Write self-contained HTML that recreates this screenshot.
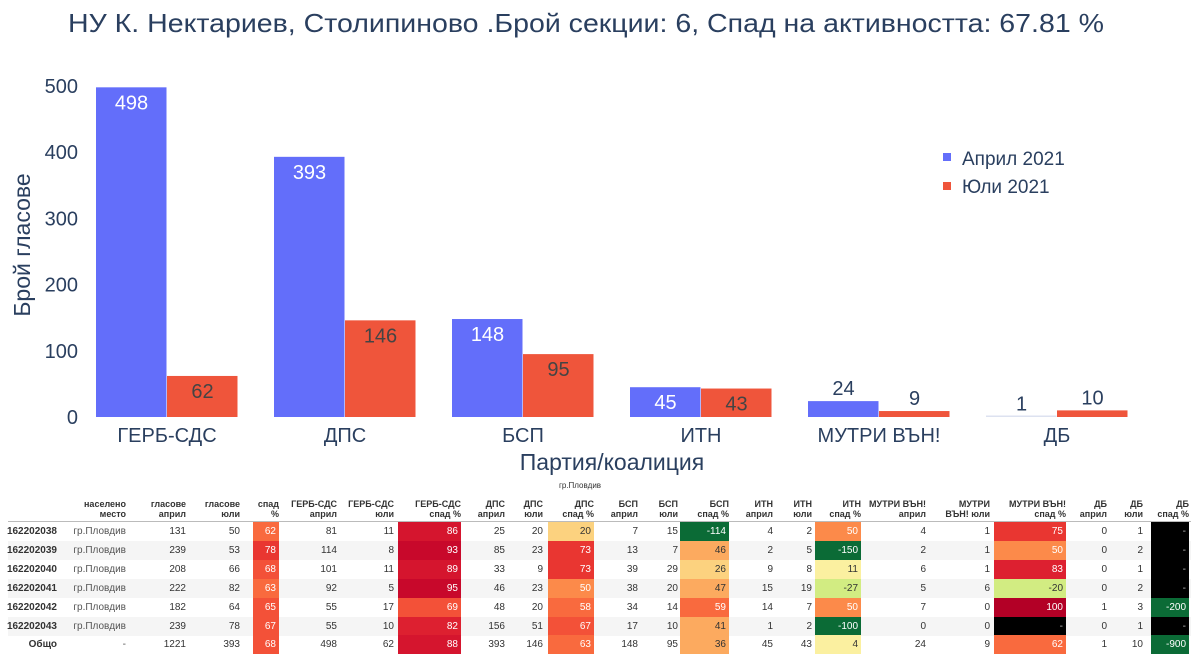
<!DOCTYPE html>
<html><head><meta charset="utf-8">
<style>
body{margin:0;background:#fff;width:1200px;height:661px;overflow:hidden;position:relative;font-family:"Liberation Sans",sans-serif}
#tbl{position:absolute;left:0;top:0;width:1200px;height:661px}
.c{position:absolute;font-size:10px;color:#333;text-align:right;line-height:19px;height:19px;white-space:nowrap}
.h{position:absolute;font-size:9px;font-weight:bold;color:#333;text-align:right;line-height:10px;white-space:nowrap}
</style></head><body>
<svg id="chart" width="1200" height="480" style="position:absolute;left:0;top:0" font-family="Liberation Sans, sans-serif">
<text x="68" y="32" font-size="26" fill="#2a3f5f" textLength="1036" lengthAdjust="spacingAndGlyphs">НУ К. Нектариев, Столипиново .Брой секции: 6,  Спад на активността: 67.81 %</text>
<text transform="translate(30,245) rotate(-90)" text-anchor="middle" font-size="23" fill="#2a3f5f">Брой гласове</text>
<text x="612" y="470" text-anchor="middle" font-size="23" fill="#2a3f5f">Партия/коалиция</text>
<g id="yticks"></g><g id="bars"></g><g id="xlabels"></g>
<g>
<rect x="943" y="153" width="8" height="8" fill="#636efa"/>
<text x="962" y="165" font-size="19" fill="#2a3f5f">Април 2021</text>
<rect x="943" y="182" width="8" height="8" fill="#ef553b"/>
<text x="962" y="193" font-size="19" fill="#2a3f5f">Юли 2021</text>
</g>
</svg>
<div id="tbl">
<div class="h" style="left:540px;top:481px;width:80px;text-align:center;font-weight:normal;font-size:8px">гр.Пловдив</div>
</div>
<script>
const categories=["ГЕРБ-СДС","ДПС","БСП","ИТН","МУТРИ ВЪН!","ДБ"];
const aprilValues=[498,393,148,45,24,1];
const julyValues=[62,146,95,43,9,10];
const yTickValues=[0,100,200,300,400,500];
const NS="http://www.w3.org/2000/svg";
const y0=417, yScale=331/500;
function yPos(v){return y0-v*yScale;}
function xCenter(i){return 167+178*i;}
function mk(tag,attrs,parent){const e=document.createElementNS(NS,tag);for(const k in attrs)e.setAttribute(k,attrs[k]);parent.appendChild(e);return e;}
const yt=document.getElementById('yticks');
yTickValues.forEach(v=>{const t=mk('text',{x:78,y:yPos(v)+7,'text-anchor':'end','font-size':20,fill:'#2a3f5f'},yt);t.textContent=v;

});
const bg=document.getElementById('bars'),xl=document.getElementById('xlabels');
const W=71;
categories.forEach((c,i)=>{
 const cx=xCenter(i);
 [[aprilValues[i],cx-W,'#636efa','#fff','april'],[julyValues[i],cx,'#ef553b','#444','july']].forEach(([v,x,col,tc,s])=>{
  const h=Math.max(v*yScale,1.5);
  const r=mk('rect',{x:x,y:y0-h,width:W-0.5,height:h,fill:v<=1?'#dde2f0':col},bg);
  
  
  const inside=h>28;
  const t=mk('text',{x:x+W/2,y:inside?yPos(v)+22:yPos(v)-6,'text-anchor':'middle','font-size':20,fill:inside?tc:'#2a3f5f'},bg);
  t.textContent=v;
  
  
 });
 const t=mk('text',{x:cx,y:442,'text-anchor':'middle','font-size':20,fill:'#2a3f5f'},xl);t.textContent=c;
 
 
});
// table
const colRight=[57,126,186,240,279,337,394,461,505,543,594,638,678,729,773,812,861,926,990,1066,1107,1143,1189];
const cellSpan={4:[253,279],7:[398,461],10:[548,594],13:[680,729],16:[815,861],19:[994,1066],22:[1151,1189]};
const headers=["","населено<br>место","гласове<br>април","гласове<br>юли","спад<br>%","ГЕРБ-СДС<br>април","ГЕРБ-СДС<br>юли","ГЕРБ-СДС<br>спад %","ДПС<br>април","ДПС<br>юли","ДПС<br>спад %","БСП<br>април","БСП<br>юли","БСП<br>спад %","ИТН<br>април","ИТН<br>юли","ИТН<br>спад %","МУТРИ ВЪН!<br>април","МУТРИ<br>ВЪН! юли","МУТРИ ВЪН!<br>спад %","ДБ<br>април","ДБ<br>юли","ДБ<br>спад %"];
const rows=[
["162202038","гр.Пловдив",131,50,62,81,11,86,25,20,20,7,15,-114,4,2,50,4,1,75,0,1,"-"],
["162202039","гр.Пловдив",239,53,78,114,8,93,85,23,73,13,7,46,2,5,-150,2,1,50,0,2,"-"],
["162202040","гр.Пловдив",208,66,68,101,11,89,33,9,73,39,29,26,9,8,11,6,1,83,0,1,"-"],
["162202041","гр.Пловдив",222,82,63,92,5,95,46,23,50,38,20,47,15,19,-27,5,6,-20,0,2,"-"],
["162202042","гр.Пловдив",182,64,65,55,17,69,48,20,58,34,14,59,14,7,50,7,0,100,1,3,-200],
["162202043","гр.Пловдив",239,78,67,55,10,82,156,51,67,17,10,41,1,2,-100,0,0,"-",0,1,"-"],
["Общо","-",1221,393,68,498,62,88,393,146,63,148,95,36,45,43,4,24,9,62,1,10,-900]];
function heat(v){
 if(v==="-")return['#000','#bbb'];
 if(v<=-90)return['#0b6b36','#fff'];
 if(v<=-20)return['#d2ec82','#333'];
 if(v<0)return['#e0f08a','#333'];
 if(v<15)return['#fbf0a0','#333'];
 if(v<30)return['#fcd27f','#333'];
 if(v<48)return['#fcaa5f','#333'];
 if(v<56)return['#fc8a4a','#fff'];
 if(v<64)return['#f96a3e','#fff'];
 if(v<70)return['#f35138','#fff'];
 if(v<80)return['#e93631','#fff'];
 if(v<86)return['#dd2030','#fff'];
 if(v<90)return['#d5152e','#fff'];
 if(v<96)return['#c8082b','#fff'];
 return['#b30026','#fff'];
}
const T=document.getElementById('tbl');
headers.forEach((h,j)=>{if(!h)return;const d=document.createElement('div');d.className='h';
 d.style.left=(colRight[j]-80)+'px';d.style.width='80px';d.style.top='499px';d.innerHTML=h;
 
 
 T.appendChild(d);});
const line=document.createElement('div');line.style.cssText='position:absolute;left:8px;top:521px;width:1183px;height:1px;background:#bbb';


T.appendChild(line);
rows.forEach((r,i)=>{
 const top=522+18.9*i;
 if(i%2==1){const b=document.createElement('div');b.style.cssText=`position:absolute;left:8px;top:${top}px;width:1183px;height:19px;background:#f5f5f5`;
 
 
 T.appendChild(b);}
 r.forEach((v,j)=>{
  const d=document.createElement('div');d.className='c';d.textContent=v;d.style.top=top+'px';
  if(cellSpan[j]){const [a,b]=cellSpan[j];const [bgc,fc]=heat(v);d.style.left=a+'px';d.style.width=(b-a-3)+'px';d.style.paddingRight='3px';d.style.background=bgc;d.style.color=fc;}
  else{d.style.left=(colRight[j]-90)+'px';d.style.width='90px';}
  if(j===0)d.style.fontWeight='bold';
  if(j===1)d.style.color='#555';
  
  
  T.appendChild(d);
 });
});
</script>
</body></html>
